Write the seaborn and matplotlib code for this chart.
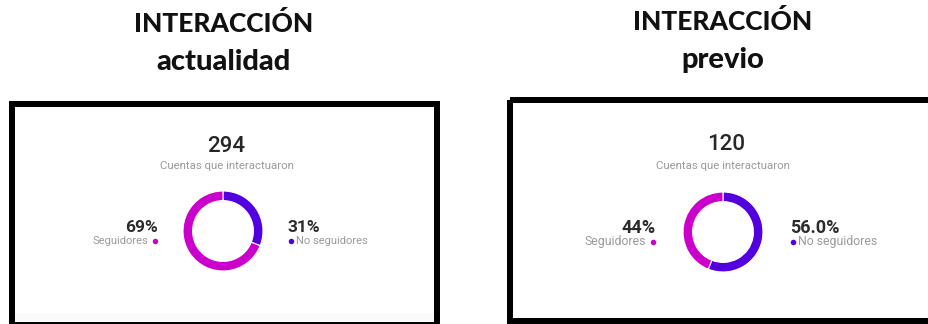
import matplotlib
matplotlib.use("Agg")
import matplotlib.pyplot as plt
from matplotlib.patches import Rectangle
import seaborn as sns

# Interaction snapshot: current period vs previous period
periods = ["actualidad", "previo"]
totals = [294, 120]
seguidores = [69, 44]
no_seguidores = [31, 56]
seguidores_labels = ["69%", "44%"]
no_seguidores_labels = ["31%", "56.0%"]
title_top = "INTERACCIÓN"
subtitle = "Cuentas que interactuaron"
category_names = ["Seguidores", "No seguidores"]

sns.set_theme(style="white")
plt.rcParams["font.family"] = ["Roboto", "DejaVu Sans"]

W, H = 929, 324
DPI = 100
fig = plt.figure(figsize=(W / DPI, H / DPI), dpi=DPI)
fig.patch.set_facecolor("white")

# Canvas axis in pixel units for frames and labels
bg = fig.add_axes([0, 0, 1, 1])
bg.set_xlim(0, W)
bg.set_ylim(H, 0)
bg.axis("off")

colors = sns.color_palette(["#CC00CC", "#5200DE"])
seg_color, noseg_color = colors

# Panel layout (pixel centers)
panel_cx = [224, 723]
title_y = [[24, 62], [21, 60]]
frames = [(12, 104, 437, 325), (510, 100, 935, 321)]
donut_c = [(223, 231), (723, 232)]
pct_size = [12.5, 13]
name_size = [8, 8.8]
R = 40
heading_font = ["Lato", "DejaVu Sans"]

for i, period in enumerate(periods):
    cx = panel_cx[i]
    # headings
    bg.text(cx, title_y[i][0], title_top, ha="center", va="center",
            fontsize=19, fontweight="black", family=heading_font, color="#111111")
    bg.text(cx, title_y[i][1], period, ha="center", va="center",
            fontsize=21, fontweight="black", family=heading_font, color="#111111")

    # framed card
    x0, y0, x1, y1 = frames[i]
    if i == 0:
        bg.add_patch(Rectangle((x0, 313), x1 - x0, 8, facecolor="#fafafb",
                               edgecolor="none", zorder=1))
    bg.add_patch(Rectangle((x0, y0), x1 - x0, y1 - y0, fill=False,
                           edgecolor="black", linewidth=6 * 72 / DPI, zorder=3,
                           joinstyle="miter"))

    dcx, dcy = donut_c[i]
    bg.text(dcx + 3, 146 - (1 if i else 0), f"{totals[i]}", ha="center", va="center",
            fontsize=16, fontweight="medium", color="#262626")
    bg.text(dcx + 4 - (4 if i else 0), 166, subtitle, ha="center", va="center",
            fontsize=8.2, color="#9a9a9a")

    # left label: followers
    lx = dcx - 65 if i == 0 else dcx - 67
    ly = dcy - 4
    bg.text(lx, ly, seguidores_labels[i], ha="right", va="center",
            fontsize=pct_size[i], fontweight="bold", color="#2b2b2b")
    bg.text(lx - 10, ly + 14, category_names[0], ha="right", va="center",
            fontsize=name_size[i], color="#9a9a9a")
    bg.scatter([lx - 3], [ly + 14], s=16, color=seg_color, zorder=4, linewidths=0)

    # right label: non-followers
    rx = dcx + 65 if i == 0 else dcx + 67
    bg.text(rx, ly, no_seguidores_labels[i], ha="left", va="center",
            fontsize=pct_size[i], fontweight="bold", color="#2b2b2b")
    bg.scatter([rx + 3], [ly + 14], s=16, color=noseg_color, zorder=4, linewidths=0)
    bg.text(rx + 8, ly + 14, category_names[1], ha="left", va="center",
            fontsize=name_size[i], color="#9a9a9a")

    # donut
    half = R + 2
    ax = fig.add_axes([(dcx - half) / W, 1 - (dcy + half) / H, 2 * half / W, 2 * half / H])
    ax.pie([no_seguidores[i], seguidores[i]], colors=[noseg_color, seg_color],
           startangle=90, counterclock=False, radius=R / half,
           wedgeprops=dict(width=0.24 * R / half, edgecolor="white", linewidth=0.8))
    ax.set_xlim(-1, 1)
    ax.set_ylim(-1, 1)
    ax.set_aspect("equal")
    ax.axis("off")

fig.savefig("out.png", dpi=DPI, facecolor="white")
